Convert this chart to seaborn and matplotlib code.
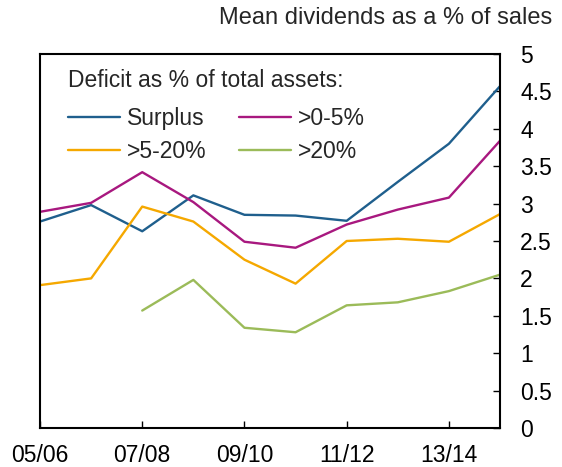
import pandas as pd
import seaborn as sns
import matplotlib.pyplot as plt
import numpy as np

# 연도 라벨 (05/06 ~ 14/15)
years = ['05/06', '06/07', '07/08', '08/09', '09/10',
         '10/11', '11/12', '12/13', '13/14', '14/15']

surplus = [2.76, 2.98, 2.63, 3.11, 2.85, 2.84, 2.77, 3.29, 3.80, 4.57]
d0_5 = [2.89, 3.01, 3.42, 3.02, 2.49, 2.41, 2.72, 2.92, 3.08, 3.84]
d5_20 = [1.91, 2.00, 2.96, 2.76, 2.25, 1.93, 2.50, 2.53, 2.49, 2.86]
d20 = [np.nan, np.nan, 1.57, 1.98, 1.34, 1.28, 1.64, 1.68, 1.83, 2.05]

groups = ['Surplus', '>0-5%', '>5-20%', '>20%']
colors = ['#1f5f8d', '#a8187f', '#f5a800', '#9bbb59']

tick_labels = ['05/06', '07/08', '09/10', '11/12', '13/14']

# long-form 데이터프레임
df = pd.DataFrame({
    'x': list(range(len(years))) * 4,
    'value': surplus + d0_5 + d5_20 + d20,
    'group': np.repeat(groups, len(years)),
}).dropna()

fs = 16.5
lw = 1.7
sns.set_style('ticks')
plt.rcParams['font.family'] = ['Liberation Sans', 'DejaVu Sans']
plt.rcParams['font.size'] = fs

fig = plt.figure(figsize=(5.62, 4.67), dpi=100)
ax = fig.add_axes([0.0712, 0.0835, 0.8185, 0.8009])

sns.lineplot(data=df, x='x', y='value', hue='group', hue_order=groups,
             palette=dict(zip(groups, colors)), linewidth=lw, ax=ax)

ax.set_xlim(0, 9)
ax.set_ylim(0, 5)
ax.set_xticks([0, 2, 4, 6, 8])
ax.set_xticklabels(tick_labels)
ax.set_yticks(np.arange(0, 5.01, 0.5))
ax.set_yticklabels(['0', '0.5', '1', '1.5', '2', '2.5', '3', '3.5', '4', '4.5', '5'])
ax.yaxis.tick_right()
ax.tick_params(axis='both', direction='in', length=5, width=1, labelsize=fs, colors='black')
ax.tick_params(axis='y', pad=14.5)
ax.tick_params(axis='x', pad=11.5)
ax.set_xlabel('')
ax.set_ylabel('')
for s in ax.spines.values():
    s.set_visible(True)
    s.set_linewidth(1.5)
    s.set_color('black')

fig.text(0.982, 0.962, 'Mean dividends as a % of sales', ha='right', va='center', fontsize=17)

# 범례: 행 우선 순서로 배치
h, l = ax.get_legend_handles_labels()
order = [0, 2, 1, 3]
leg = ax.legend([h[i] for i in order], [l[i] for i in order],
                title='Deficit as % of total assets:', ncol=2, frameon=False,
                loc='upper left', bbox_to_anchor=(0.017, 1.014), handlelength=2.27,
                handletextpad=0.3, columnspacing=1.41, labelspacing=0.44,
                alignment='left', fontsize=fs, title_fontsize=fs)
leg._legend_box.sep = 0.44 * fs + 3
for line in leg.get_lines():
    line.set_linewidth(lw)

fig.savefig('out.png', dpi=100)
